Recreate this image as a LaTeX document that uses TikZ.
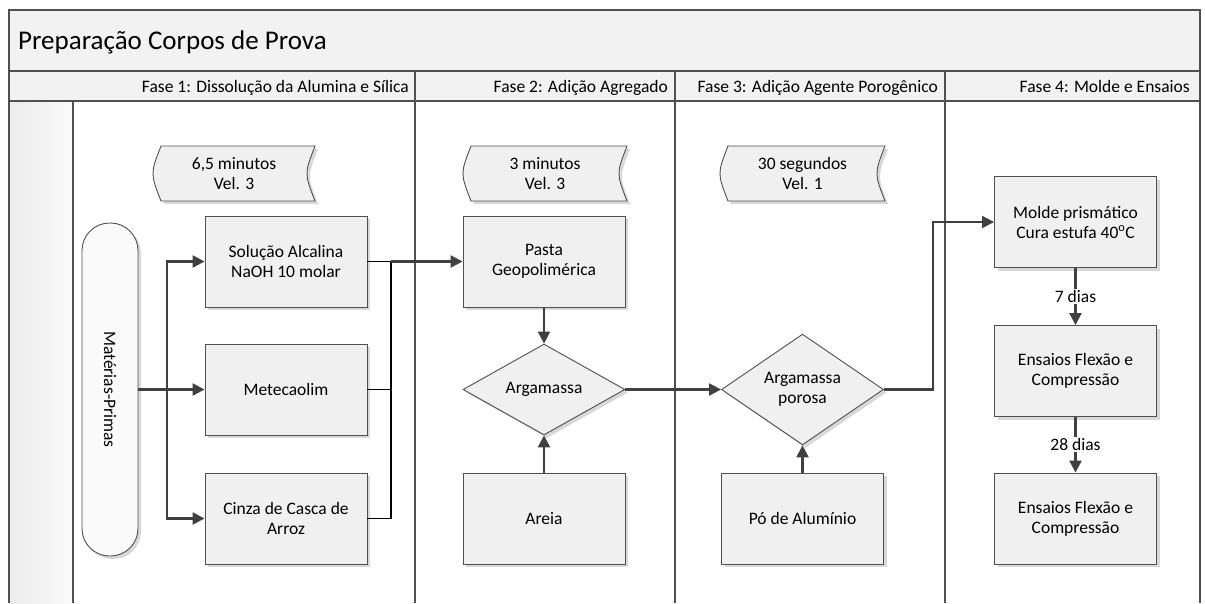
\documentclass[tikz,border=0pt]{standalone}
\usepackage{fontspec}
\setmainfont{Carlito}
\usepackage{graphicx}
\usetikzlibrary{shapes.geometric,arrows.meta,shadows,calc}
\definecolor{ln}{HTML}{505050}
\definecolor{bandfill}{HTML}{F2F2F2}
\definecolor{boxfill}{HTML}{F0F0F0}
\definecolor{arrcol}{HTML}{404040}
\definecolor{stripL}{HTML}{EBEBEB}
\definecolor{stripR}{HTML}{FAFAFA}
\newcommand\tapeshape[4]{%
  \draw[tapestyle] ({#1+8},#2) -- (#3,#2) .. controls ({#3-10.7},{(#2+#4)/2}) .. (#3,#4)
    -- ({#1+8},#4) .. controls ({#1-2.7},{(#2+#4)/2}) .. ({#1+8},#2) -- cycle;}
\begin{document}
\begin{tikzpicture}[x=1pt,y=-1pt,
  every node/.style={font=\fontsize{17.5}{20}\selectfont},
  shad/.style={drop shadow={shadow xshift=3pt,shadow yshift=-3pt,fill=black!30,opacity=0.5}},
  procbox/.style={draw=ln, line width=0.9pt, fill=boxfill, minimum width=162pt,
    minimum height=91pt, inner sep=2pt, align=center, shad},
  decis/.style={diamond, draw=ln, line width=0.9pt, fill=boxfill, minimum width=162pt,
    minimum height=90pt, inner sep=0pt, align=center, shad},
  tapestyle/.style={draw=ln, line width=0.9pt, fill=boxfill, shad},
  tapetxt/.style={minimum width=150pt, minimum height=55pt, align=center, inner sep=0pt},
  mpbox/.style={draw=ln, line width=0.9pt, fill=stripR, rounded corners=27.5pt,
    minimum width=56pt, minimum height=333pt, inner sep=0pt, shad},
  flow/.style={draw=arrcol, line width=2.2pt, -{Triangle[length=12pt,width=12pt]}},
  thinln/.style={draw=black, line width=1.2pt},
  lane/.style={draw=ln, line width=1.2pt},
  lbl/.style={fill=white, inner sep=1.5pt},
]
\useasboundingbox (0,0) rectangle (1205,603);
% pool and lanes
\fill[bandfill] (9,10) rectangle (1200,101);
\fill[left color=stripL, right color=stripR] (9,101) rectangle (73,603);
\draw[lane] (9,603) -- (9,10) -- (1200,10) -- (1200,603);
\draw[lane] (9,71) -- (1200,71);
\draw[lane] (9,101) -- (1200,101);
\draw[lane] (73,101) -- (73,603);
\draw[lane] (415,71) -- (415,603);
\draw[lane] (675,71) -- (675,603);
\draw[lane] (945,71) -- (945,603);
\node[anchor=base west, font=\fontsize{27}{32}\selectfont, inner sep=0pt] (title) at (18,49) {Preparação Corpos de Prova};
\node[anchor=base east, inner sep=0pt] (ph1) at (409,92) {Fase 1: Dissolução da Alumina e Sílica};
\node[anchor=base east, inner sep=0pt] (ph2) at (668,92) {Fase 2: Adição Agregado};
\node[anchor=base east, inner sep=0pt] (ph3) at (938,92) {Fase 3: Adição Agente Porogênico};
\node[anchor=base east, inner sep=0pt] (ph4) at (1190,92) {Fase 4: Molde e Ensaios};
% tapes
\tapeshape{153}{146}{315}{201}
\node[tapetxt] (t1) at (234,173.5) {6,5 minutos\\Vel. 3};
\tapeshape{463}{146}{627}{201}
\node[tapetxt] (t2) at (545,173.5) {3 minutos\\Vel. 3};
\tapeshape{720}{146}{885}{201}
\node[tapetxt] (t3) at (802.5,173.5) {30 segundos\\Vel. 1};
% nodes
\node[mpbox] (mp) at (110,389.5) {\rotatebox{-90}{Matérias-Primas}};
\node[procbox] (sol) at (286,261.5) {Solução Alcalina\\NaOH 10 molar};
\node[procbox] (met) at (286,389.5) {Metecaolim};
\node[procbox] (cin) at (286,518.5) {Cinza de Casca de\\Arroz};
\node[procbox] (pasta) at (544,261.5) {Pasta\\Geopolimérica};
\node[decis] (arg) at (544,389.5) {Argamassa};
\node[procbox] (areia) at (544,518.5) {Areia};
\node[decis] (ap) at (802.5,389.5) {Argamassa\\porosa};
\node[procbox] (po) at (802.5,518.5) {Pó de Alumínio};
\node[procbox] (molde) at (1075.5,222) {Molde prismático\\Cura estufa 40\textsuperscript{o}C};
\node[procbox] (ens1) at (1075.5,371) {Ensaios Flexão e\\Compressão};
\node[procbox] (ens2) at (1075.5,518.5) {Ensaios Flexão e\\Compressão};
% connectors
\coordinate (split) at (167,389.5);
\draw[flow] (mp.east) -- (met.west);
\draw[flow] (split) |- (sol.west);
\draw[flow] (split) |- (cin.west);
\coordinate (bus) at (391,261.5);
\draw[thinln] (met.east) -| (bus);
\draw[thinln] (cin.east) -| (bus);
\draw[thinln] (sol.east) -- (bus);
\draw[flow] (bus) -- (pasta.west);
\draw[flow] (pasta.south) -- (arg.north);
\draw[flow] (areia.north) -- (arg.south);
\draw[flow] (arg.east) -- (ap.west);
\draw[flow] (po.north) -- (ap.south);
\coordinate (j2) at (933,389.5);
\draw[flow] (ap.east) -- (j2) |- (molde.west);
\draw[flow] (molde.south) -- node[lbl] (l7) {7 dias} (ens1.north);
\draw[flow] (ens1.south) -- node[lbl] (l28) {28 dias} (ens2.north);
\end{tikzpicture}
\end{document}
